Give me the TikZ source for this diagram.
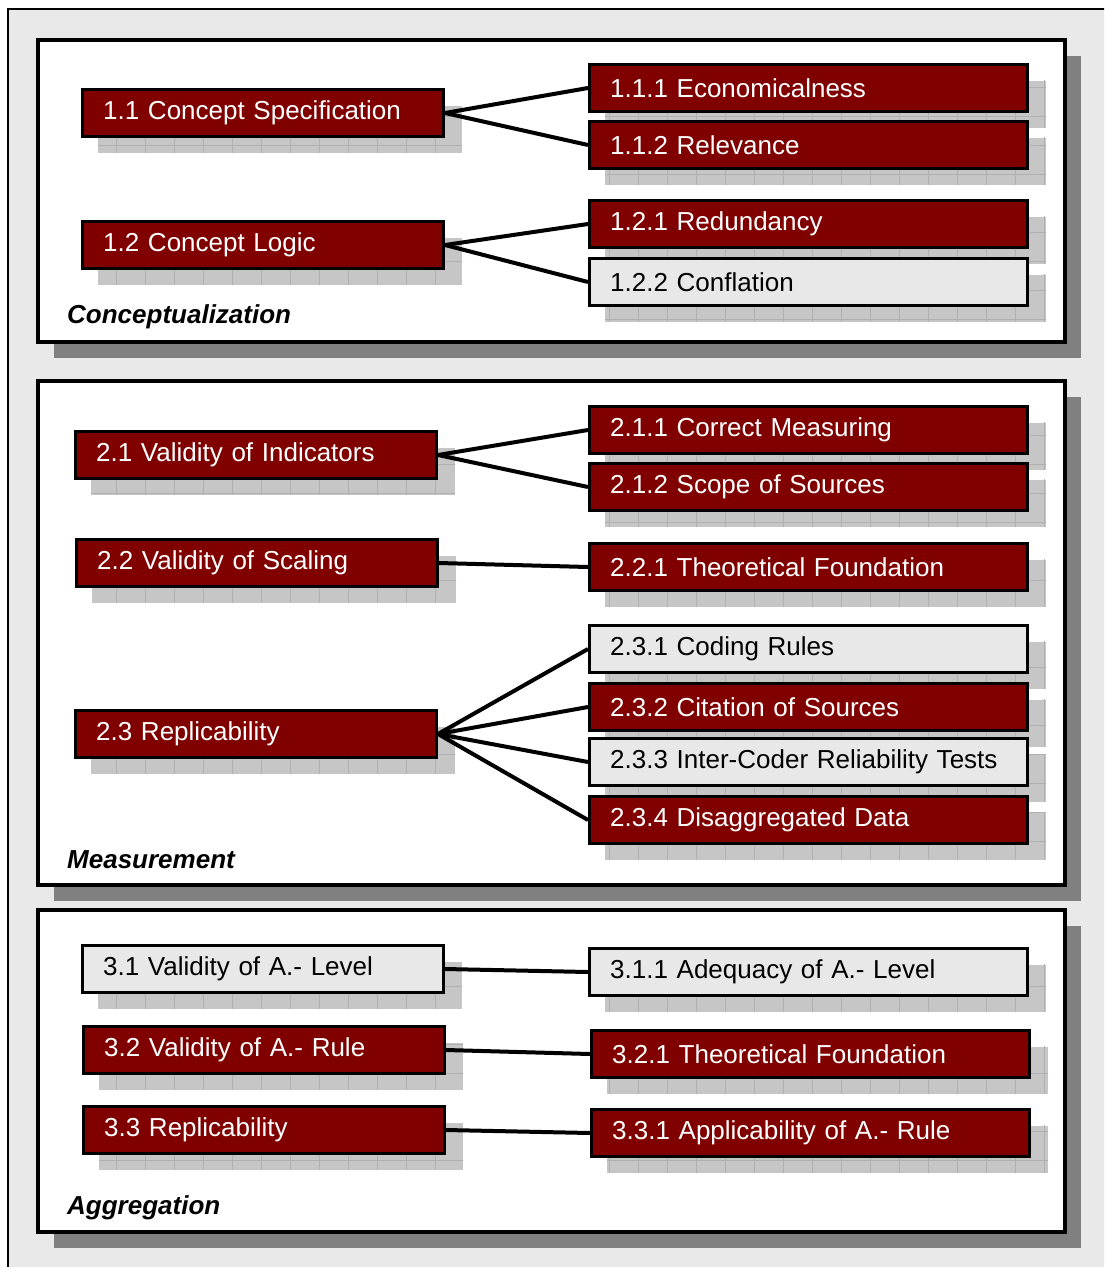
\documentclass[tikz,border=0pt]{standalone}
\usepackage{fontspec}
\setmainfont{Liberation Sans}
\definecolor{boxred}{RGB}{128,0,0}
\definecolor{boxlight}{RGB}{232,232,232}
\definecolor{framegray}{RGB}{233,233,233}
\definecolor{tilegray}{RGB}{198,198,198}
\definecolor{tileline}{RGB}{176,176,176}
\definecolor{panelshadow}{RGB}{128,128,128}
\tikzset{
  boxbase/.style={draw=black, line width=3.4pt, rectangle, minimum height=47pt,
    inner xsep=20.5pt, inner ysep=0pt, align=left,
    font=\fontsize{26}{30}\selectfont},
  redbox/.style={boxbase, fill=boxred, text=white},
  greybox/.style={boxbase, fill=boxlight, text=black},
  link/.style={draw=black, line width=4pt},
  panel/.style={draw=black, line width=3.4pt, fill=white},
  paneltitle/.style={anchor=west, inner sep=0pt,
    font=\fontsize{26}{30}\selectfont\bfseries\itshape},
}
% #1 name, #2 style, #3 left x, #4 centre y, #5 width, #6 text
\newcommand\entrybox[6]{%
  \begin{scope}
    \clip (#3+17,#4-7.5) rectangle (#3+#5+17,#4+39.5);
    \fill[tilegray] (#3+17,#4-7.5) rectangle (#3+#5+17,#4+39.5);
    \draw[tileline, line width=0.8pt] (#3-40,#4-60) grid[step=29pt] (#3+#5+60,#4+80);
  \end{scope}
  \pgfmathsetmacro\entrytw{#5-44.4}
  \node[#2, text width=\entrytw pt, anchor=west] (#1) at (#3,#4) {#6};
}
% #1 top, #2 bottom
\newcommand\panelframe[2]{%
  \fill[panelshadow] (54,#1+16) rectangle (1081,#2+16);
  \draw[panel] (38,#1) rectangle (1065,#2);
}
\begin{document}
\begin{tikzpicture}[x=1pt, y=-1pt]
  \useasboundingbox (0,0) rectangle (1104,1267);
  \clip (0,0) rectangle (1104,1267);
  \fill[white] (0,0) rectangle (1104,1267);
  \draw[line width=2.6pt, fill=framegray] (8,9) rectangle (1140,1300);

  % Conceptualization
  \panelframe{40}{342}
  \entrybox{c11}{redbox}{81}{113}{364}{1.1 Concept Specification}
  \entrybox{c12}{redbox}{81}{245}{364}{1.2 Concept Logic}
  \entrybox{c111}{redbox}{588}{88}{441}{1.1.1 Economicalness}
  \entrybox{c112}{redbox}{588}{145}{441}{1.1.2 Relevance}
  \entrybox{c121}{redbox}{588}{224}{441}{1.2.1 Redundancy}
  \entrybox{c122}{greybox}{588}{282}{441}{1.2.2 Conflation}
  \node[paneltitle] (tconc) at (67,317) {Conceptualization};
  \draw[link] (c11.east) -- (c111.west);
  \draw[link] (c11.east) -- (c112.west);
  \draw[link] (c12.east) -- (c121.west);
  \draw[link] (c12.east) -- (c122.west);

  % Measurement
  \panelframe{381}{885}
  \entrybox{m21}{redbox}{74}{455}{364}{2.1 Validity of Indicators}
  \entrybox{m22}{redbox}{75}{563}{364}{2.2 Validity of Scaling}
  \entrybox{m23}{redbox}{74}{734}{364}{2.3 Replicability}
  \entrybox{m211}{redbox}{588}{430}{441}{2.1.1 Correct Measuring}
  \entrybox{m212}{redbox}{588}{487}{441}{2.1.2 Scope of Sources}
  \entrybox{m221}{redbox}{588}{567}{441}{2.2.1 Theoretical Foundation}
  \entrybox{m231}{greybox}{588}{649}{441}{2.3.1 Coding Rules}
  \entrybox{m232}{redbox}{588}{707}{441}{2.3.2 Citation of Sources}
  \entrybox{m233}{greybox}{588}{762}{441}{2.3.3 Inter-Coder Reliability Tests}
  \entrybox{m234}{redbox}{588}{820}{441}{2.3.4 Disaggregated Data}
  \node[paneltitle] (tmeas) at (67,860) {Measurement};
  \draw[link] (m21.east) -- (m211.west);
  \draw[link] (m21.east) -- (m212.west);
  \draw[link] (m22.east) -- (m221.west);
  \draw[link] (m23.east) -- (m231.west);
  \draw[link] (m23.east) -- (m232.west);
  \draw[link] (m23.east) -- (m233.west);
  \draw[link] (m23.east) -- (m234.west);

  % Aggregation
  \panelframe{910}{1232}
  \entrybox{a31}{greybox}{81}{969}{364}{3.1 Validity of A.- Level}
  \entrybox{a32}{redbox}{82}{1050}{364}{3.2 Validity of A.- Rule}
  \entrybox{a33}{redbox}{82}{1130}{364}{3.3 Replicability}
  \entrybox{a311}{greybox}{588}{972}{441}{3.1.1 Adequacy of A.- Level}
  \entrybox{a321}{redbox}{590}{1054}{441}{3.2.1 Theoretical Foundation}
  \entrybox{a331}{redbox}{590}{1133}{441}{3.3.1 Applicability of A.- Rule}
  \node[paneltitle] (taggr) at (67,1208) {Aggregation};
  \draw[link] (a31.east) -- (a311.west);
  \draw[link] (a32.east) -- (a321.west);
  \draw[link] (a33.east) -- (a331.west);
\end{tikzpicture}
\end{document}
